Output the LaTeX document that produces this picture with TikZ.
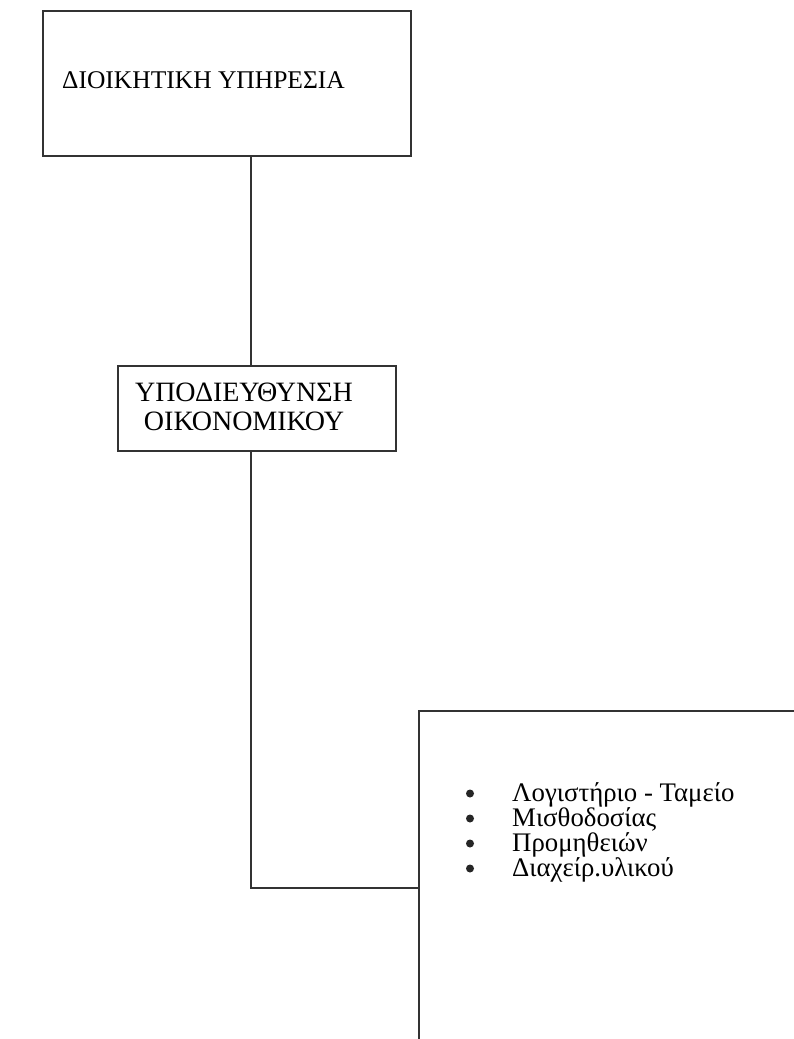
\documentclass[tikz,border=0pt]{standalone}
\usepackage{fontspec}
\setmainfont{Liberation Serif}
\begin{document}
\begin{tikzpicture}[x=1pt,y=-1pt,
  box/.style={draw=black!80, line width=1.6pt, rectangle, inner sep=0pt, anchor=north west},
  heading/.style={font=\fontsize{25.5}{29}\selectfont, inner sep=0pt},
  subheading/.style={font=\fontsize{28}{28}\selectfont, inner sep=0pt, anchor=base},
  entry/.style={font=\fontsize{26.8}{25}\selectfont, inner sep=0pt, anchor=base west},
  listdot/.style={fill=black!85},
  link/.style={draw=black!80, line width=1.6pt}]
\useasboundingbox (0,0) rectangle (794,1039);
\fill[white] (0,0) rectangle (794,1039);
\begin{scope}
\clip (0,0) rectangle (794,1039);
% top-level unit
\node[box, minimum width=368pt, minimum height=145pt] (admin) at (42,10) {};
\node[heading, anchor=base west] (admintxt) at (62,88) {ΔΙΟΙΚΗΤΙΚΗ ΥΠΗΡΕΣΙΑ};
% sub-directorate
\node[box, minimum width=278pt, minimum height=85pt] (sub) at (117,365) {};
\node[subheading] (subtxt1) at (244,401) {ΥΠΟΔΙΕΥΘΥΝΣΗ};
\node[subheading] (subtxt2) at (244,430) {ΟΙΚΟΝΟΜΙΚΟΥ};
% departments box (runs past the page edge)
\node[box, minimum width=420pt, minimum height=360pt] (depts) at (418,710) {};
\node[entry] (d1) at (512,801) {Λογιστήριο - Ταμείο};
\node[entry] (d2) at (512,826) {Μισθοδοσίας};
\node[entry] (d3) at (512,851) {Προμηθειών};
\node[entry] (d4) at (512,876) {Διαχείρ.υλικού};
\foreach \d in {d1,d2,d3,d4}
  \fill[listdot] ([xshift=-42pt,yshift=7.5pt]\d.base west) circle (4pt);
% connectors
\coordinate (spine) at (251,0);
\coordinate (elbow) at (251,888);
\draw[link] (admin.south -| spine) -- (sub.north -| spine);
\draw[link] (sub.south -| spine) -- (elbow) -- (elbow -| depts.west);
\end{scope}
\end{tikzpicture}
\end{document}
